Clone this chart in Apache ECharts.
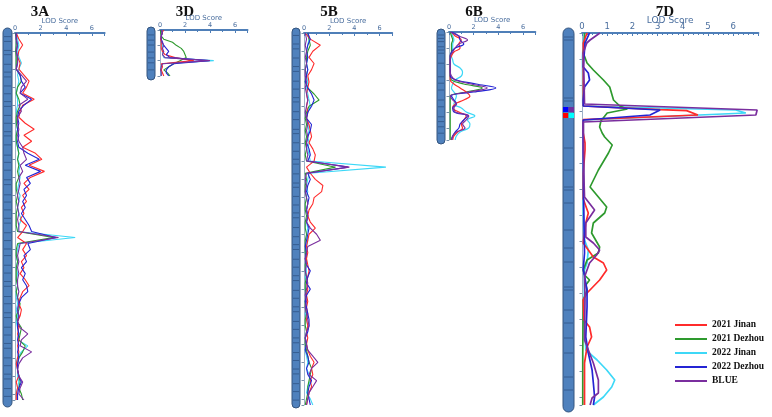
<!DOCTYPE html>
<html>
<head>
<meta charset="utf-8">
<script src="https://cdn.jsdelivr.net/npm/echarts@6/dist/echarts.min.js"></script>
<style>
  html, body { margin: 0; padding: 0; background: #fff; }
  #chart { width: 772px; height: 417px; }
</style>
</head>
<body>
<div id="chart"></div>
<script>
// environments / traits shown in the legend
const seriesNames = ['2021 Jinan', '2021 Dezhou', '2022 Jinan', '2022 Dezhou', 'BLUE'];

// LOD profiles, one value per marker interval (3A, 3D, 5B, 6B)
const jinan21_3A = [0.1,0.3,0.6,0.3,0.2,0.4,0.3,0.7,1.1,0.9,0.6,1.5,0.6,0.4,0.3,0.8,1.5,0.7,1.3,0.6,1.6,2.1,1.1,2.3,1.2,0.7,1.1,0.6,0.9,0.5,0.7,0.4,0.9,0.6,0.2,0.9,0.6,0.9,0.5,0.7,0.4,0.8,1.1,0.6,0.4,0.3,0.5,0.4,0.2,0.3,0.2,0.3,0.2,0.3,0.2,0.1,0.2,0.3,0.1,0.2,0.1,0.1];
const dezhou21_3A = [0.05,0.1,0.1,0.05,0.1,0.1,0.1,0.4,0.5,0.2,0.1,0.3,0.4,0.2,0.1,0.1,0.2,0.1,0.1,0.2,0.3,0.2,0.3,0.2,0.3,0.1,0.1,0.2,0.1,0.2,0.1,0.1,0.1,0.2,3.0,0.2,0.1,0.1,0.2,0.1,0.1,0.1,0.2,0.1,0.2,0.4,0.3,0.1,0.2,0.5,0.4,0.3,0.8,0.6,0.3,0.2,0.2,0.3,0.4,0.3,0.5,0.6];
const jinan22_3A = [0.1,0.2,0.3,0.2,0.3,0.5,0.3,0.2,0.3,0.2,0.1,0.2,0.2,0.1,0.2,0.1,0.2,0.1,0.1,0.2,0.3,0.2,0.4,0.3,0.4,0.3,0.2,0.4,0.3,0.2,0.3,0.5,0.3,0.2,4.7,0.3,0.2,0.1,0.2,0.1,0.2,0.1,0.2,0.1,0.1,0.2,0.1,0.2,0.1,0.2,0.3,0.2,1.0,0.5,0.2,0.1,0.2,0.2,0.3,0.2,0.1,0.2];
const dezhou22_3A = [0.1,0.1,0.2,0.1,0.2,0.2,0.1,0.4,0.5,0.8,0.4,1.3,0.7,0.3,0.2,0.3,0.2,0.3,0.2,0.3,1.0,1.9,0.8,2.0,0.9,1.2,0.7,0.9,0.6,0.8,0.5,0.8,1.1,1.3,3.2,1.0,1.2,0.7,0.9,0.5,0.8,0.6,0.9,1.0,0.5,0.3,0.2,0.3,0.2,0.2,0.3,0.2,0.3,0.2,0.3,0.2,0.2,0.3,0.5,0.3,0.2,0.2];
const blue_3A = [0.1,0.1,0.2,0.1,0.2,0.2,0.1,0.5,0.9,0.5,0.4,1.0,0.3,0.5,0.2,0.2,0.3,0.2,0.3,0.6,0.7,0.9,0.4,0.6,0.3,0.4,0.3,0.2,0.3,0.2,0.3,0.2,0.3,0.3,3.4,0.4,0.3,0.2,0.3,0.2,0.3,0.2,0.2,0.3,0.2,0.3,0.2,0.3,0.2,0.4,1.0,0.5,0.4,1.3,0.6,0.3,0.2,0.3,0.6,0.4,0.3,0.7];

const jinan21_3D = [0.3,0.15,0.1,0.05,0.1,0.1,0.1,0.2,0.4,1.2,2.7,0.1,0.2,0.1,0.2,0.3];
const dezhou21_3D = [0.05,0.05,0.1,0.3,1.0,1.3,1.7,1.9,2.0,2.1,1.6,1.1,0.7,0.3,0.6,0.8];
const jinan22_3D = [0.1,0.1,0.1,0.1,0.1,0.2,0.2,0.2,0.2,0.3,4.3,0.2,0.1,0.1,0.1,0.1];
const dezhou22_3D = [0.1,0.2,0.1,0.1,0.2,0.3,0.5,0.7,0.5,0.8,3.9,1.1,0.7,0.5,0.5,0.7];
const blue_3D = [0.1,0.2,0.1,0.1,0.15,0.3,0.2,0.3,0.2,0.4,4.0,0.2,0.1,0.05,0.1,0.1];

const jinan21_5B = [0.1,0.5,1.3,0.7,0.4,0.8,0.6,0.3,0.4,0.3,0.2,0.3,0.2,0.3,0.2,0.4,0.5,0.6,0.4,0.7,0.9,0.8,0.2,0.5,0.9,1.5,1.4,0.8,0.7,0.4,0.3,0.5,0.9,0.4,0.3,0.2,0.3,0.2,0.3,0.4,0.3,0.2,0.3,0.2,0.3,0.2,0.3,0.2,0.3,0.2,0.3,0.2,0.3,0.5,0.8,0.6,0.7,0.5,0.6,0.4,0.3,0.2];
const dezhou21_5B = [0.3,0.4,0.5,0.3,0.2,0.2,0.1,0.2,0.1,0.3,0.8,1.2,0.4,0.2,0.1,0.2,0.1,0.2,0.1,0.2,0.1,0.2,2.5,0.1,0.2,0.1,0.1,0.2,0.1,0.1,0.2,0.1,0.1,0.2,0.1,0.1,0.1,0.2,0.1,0.1,0.2,0.1,0.1,0.2,0.1,0.1,0.2,0.1,0.1,0.2,0.1,0.1,0.2,0.3,0.4,0.6,0.5,0.4,0.3,0.3,0.2,0.1];
const jinan22_5B = [0.2,0.4,0.3,0.2,0.3,0.2,0.3,0.2,0.3,0.2,0.3,0.4,0.5,0.3,0.2,0.3,0.4,0.3,0.4,0.3,0.4,0.5,6.5,0.4,0.3,0.2,0.3,0.2,0.3,0.2,0.3,0.2,0.3,0.2,0.3,0.2,0.1,0.2,0.1,0.2,0.1,0.2,0.1,0.2,0.1,0.2,0.1,0.2,0.3,0.2,0.1,0.2,0.1,0.2,0.3,0.2,0.4,0.5,0.3,0.2,0.5,0.7];
const dezhou22_5B = [0.3,0.5,0.3,0.2,0.3,0.2,0.3,0.2,0.1,0.3,0.6,0.8,0.6,0.3,0.2,0.6,0.5,0.3,0.2,0.4,0.5,0.3,3.5,0.3,0.5,0.3,0.2,0.4,0.3,0.2,0.3,0.2,0.4,0.3,0.2,0.1,0.2,0.1,0.2,0.5,0.3,0.2,0.5,0.2,0.1,0.2,0.3,0.4,0.4,0.3,0.1,0.2,0.1,0.3,0.4,0.2,0.3,0.6,0.4,0.3,0.4,0.5];
const blue_5B = [0.1,0.2,0.1,0.2,0.1,0.2,0.1,0.1,0.2,0.1,0.2,0.3,0.2,0.1,0.2,0.3,0.2,0.3,0.2,0.2,0.3,0.2,3.6,0.2,0.1,0.2,0.1,0.2,0.3,0.2,0.3,0.2,0.5,1.0,1.3,0.3,0.2,0.1,0.2,0.1,0.2,0.3,0.2,0.1,0.2,0.1,0.2,0.3,0.4,0.2,0.1,0.2,0.3,0.7,1.1,0.6,0.4,1.0,0.7,0.4,0.3,0.2];

const jinan21_6B = [0.2,0.5,1.0,0.8,0.9,0.4,0.2,0.1,0.1,0.1,0.1,0.1,0.1,0.4,0.9,1.4,1.7,1.2,0.5,0.3,0.8,1.4,1.2,1.0,1.1,0.7,0.4,0.3];
const dezhou21_6B = [0.1,0.2,0.3,0.2,0.2,0.2,0.1,0.1,0.1,0.1,0.1,0.1,0.2,1.2,2.7,1.4,0.1,0.1,0.1,0.1,0.1,0.1,0.1,0.1,0.1,0.1,0.1,0.1];
const jinan22_6B = [0.2,0.3,0.4,0.3,0.3,0.2,0.2,0.3,0.4,0.9,1.1,1.0,0.5,0.3,0.2,0.4,0.6,0.5,0.4,1.0,1.4,2.1,1.5,1.7,1.6,0.9,0.6,0.5];
const dezhou22_6B = [0.2,0.8,0.9,1.2,0.5,0.2,0.1,0.1,0.1,0.1,0.1,0.1,0.6,2.2,3.8,2.0,0.2,0.4,0.6,0.3,0.4,1.5,1.2,0.9,0.8,0.5,0.3,0.2];
const blue_6B = [0.1,0.8,1.5,0.8,0.5,0.3,0.1,0.1,0.1,0.1,0.1,0.2,0.5,1.8,3.1,1.6,0.1,0.3,0.6,0.4,0.5,1.6,1.4,1.1,1.3,0.6,0.3,0.2];

// 7D profiles as [position cM, LOD] pairs
const jinan21_7D = [[0,0.2],[5,0.05],[20,0.05],[36.5,0.05],[38.3,3.1],[38.8,4.15],[41,4.6],[43.3,0.05],[50,0.05],[55,0.12],[58.5,0.12],[70,0.05],[83,0.05],[90,0.25],[95,0.15],[105,0.05],[112,0.45],[115,0.85],[118.5,0.98],[123.5,0.7],[130,0.2],[133.5,0.05],[143.5,0.08],[147,0.3],[152,0.38],[157,0.2],[165,0.1],[186,0.1]];
const dezhou21_7D = [[0,0.1],[5,0.1],[10,0.05],[15,0.2],[18.5,0.45],[23.5,0.85],[27,1.1],[33.5,1.25],[36.5,1.5],[38,1.8],[40,1.0],[44,0.75],[47,0.7],[50,0.8],[52,0.9],[56,1.2],[60,1.05],[68.5,0.65],[77,0.32],[82,0.65],[87,0.98],[90,0.9],[95,0.45],[100,0.38],[107,0.7],[110,0.65],[113.5,0.2],[118.5,0.05],[121,0.1],[123.5,0.3],[126,0.15],[128.5,0.2],[133.5,0.05],[160,0.03],[186,0.03]];
const jinan22_7D = [[0,0.1],[5,0.05],[12,0.02],[35,0.03],[36.5,0.05],[38.5,6.1],[40,6.5],[43.5,0.05],[60,0.05],[90,0.05],[103.5,0.1],[108.5,0.25],[115,0.2],[118.5,0.1],[140,0.08],[158.5,0.15],[163.5,0.6],[168.5,0.98],[173.5,1.3],[177,1.18],[182,0.85],[186,0.45]];
const dezhou22_7D = [[0,0.3],[5,0.12],[17,0.05],[20,0.25],[23.5,0.3],[27,0.1],[33.5,0.05],[36.5,0.05],[38.5,3.1],[41,2.7],[43.5,0.05],[50,0.05],[80,0.06],[110,0.1],[118,0.05],[128.5,0.2],[137,0.2],[152,0.15],[160,0.25],[168.5,0.4],[175,0.45],[182,0.5],[186,0.45]];
const blue_7D = [[0,0.71],[3.5,0.32],[5,0.19],[10,0.05],[23.5,0.08],[35.5,0.1],[38.5,6.95],[41,6.9],[44.5,0.05],[58.5,0.05],[73.5,0.08],[82,0.1],[88.5,0.5],[95,0.15],[102,0.15],[105,0.45],[108.5,0.7],[111,0.58],[115,0.3],[122,0.1],[133.5,0.12],[153.5,0.1],[165,0.45],[173.5,0.65],[180,0.65],[182.5,0.4],[186,0.32]];

// chromosome band positions (same units as each panel's y axis)
const bands3A = [0.6,1.4,2.9,3.6,5.2,6.5,7.3,8.8,10.1,11.4,12.2,13.7,15.0,16.4,17.1,18.6,20.3,21.5,22.8,24.4,25.2,26.9,28.1,29.4,30.8,31.6,33.2,34.5,35.9,37.0,38.6,39.9,41.3,42.1,43.8,45.0,46.5,47.3,48.9,50.2,51.6,52.4,54.0,55.3,56.7,57.5,59.1,60.4];
const bands3D = [1.6,3.3,4.9,7.2,9.1,10.7,13];
const bands5B = [0.4,1.8,2.6,4.1,5.5,6.3,7.9,9.2,10.6,11.3,12.9,14.2,15.8,16.5,18.0,19.4,20.7,21.5,23.1,24.6,25.3,26.8,28.2,29.5,30.3,31.9,33.4,34.7,35.5,37.1,38.4,39.8,40.6,42.2,43.5,44.9,45.7,47.3,48.6,50.0,50.8,52.4,53.7,55.1,55.9,57.5,58.8,60.2];
const bands6B = [0.75,1.6,2.4,3.7,4.5,5.3,7.8,11.2,12.8,14.5,17,18.7,21.2,22.4,23.7,25.3];
const bands7D = [2,3.5,32.5,34,57.5,68.5,77,78.5,85,98.5,107.5,114.5,127,128.5,138.5,145,152.5,160,172,178.5];
// QTL box on 7D: [from, to] in cM
const qtlRows7D = [[37, 39.5], [40, 42.5]];

const colors = {
  '2021 Jinan': '#ff2b2b',
  '2021 Dezhou': '#2e9a2e',
  '2022 Jinan': '#3dd8f7',
  '2022 Dezhou': '#2424d4',
  'BLUE': '#7a2e9e'
};
const drawOrder = ['2022 Jinan', '2021 Dezhou', '2021 Jinan', '2022 Dezhou', 'BLUE'];

const panels = [
  { id: '3A', left: 15, top: 33, width: 89.6, height: 367, ymax: 61, yTick: 3, big: false, lw: 1.1, smooth: false,
    chr: { dx: -12, w: 9, padTop: 5, padBot: 7 }, bands: bands3A,
    curves: { '2021 Jinan': jinan21_3A, '2021 Dezhou': dezhou21_3A, '2022 Jinan': jinan22_3A, '2022 Dezhou': dezhou22_3A, 'BLUE': blue_3A } },
  { id: '3D', left: 160, top: 30, width: 87.5, height: 46, ymax: 15, yTick: 5, big: false, lw: 1.1, smooth: false,
    chr: { dx: -13, w: 8, padTop: 3, padBot: 4 }, bands: bands3D,
    curves: { '2021 Jinan': jinan21_3D, '2021 Dezhou': dezhou21_3D, '2022 Jinan': jinan22_3D, '2022 Dezhou': dezhou22_3D, 'BLUE': blue_3D } },
  { id: '5B', left: 304, top: 33, width: 88.2, height: 372, ymax: 61, yTick: 3, big: false, lw: 1.1, smooth: false,
    chr: { dx: -12, w: 8, padTop: 5, padBot: 3 }, bands: bands5B,
    curves: { '2021 Jinan': jinan21_5B, '2021 Dezhou': dezhou21_5B, '2022 Jinan': jinan22_5B, '2022 Dezhou': dezhou22_5B, 'BLUE': blue_5B } },
  { id: '6B', left: 449, top: 32, width: 86.3, height: 108, ymax: 27, yTick: 4, big: false, lw: 1.2, smooth: 0.4,
    chr: { dx: -12, w: 8, padTop: 3, padBot: 4 }, bands: bands6B,
    curves: { '2021 Jinan': jinan21_6B, '2021 Dezhou': dezhou21_6B, '2022 Jinan': jinan22_6B, '2022 Dezhou': dezhou22_6B, 'BLUE': blue_6B } },
  { id: '7D', left: 582, top: 33, width: 176.4, height: 372, ymax: 186, yTick: 13, big: true, lw: 1.7, smooth: false, pairs: true,
    chr: { dx: -19, w: 11, padTop: 5, padBot: 7 }, bands: bands7D, qtl: qtlRows7D,
    curves: { '2021 Jinan': jinan21_7D, '2021 Dezhou': dezhou21_7D, '2022 Jinan': jinan22_7D, '2022 Dezhou': dezhou22_7D, 'BLUE': blue_7D } }
];

const axisBlue = '#4f7fb8';
const labelBlue = '#4a6e9e';

const grid = [], xAxis = [], yAxis = [], series = [], graphic = [];

panels.forEach(function (p, k) {
  grid.push({ left: p.left, top: p.top, width: p.width, height: p.height });

  xAxis.push({
    type: 'value', gridIndex: k, position: 'top', min: 0, max: 7, interval: p.big ? 1 : 2,
    name: 'LOD Score', nameLocation: 'middle', nameGap: 8, nameMoveOverlap: false,
    nameTextStyle: { color: labelBlue, fontSize: p.big ? 9 : 7, fontFamily: 'DejaVu Sans' },
    axisLine: { onZero: false, lineStyle: { color: axisBlue, width: 2 } },
    axisTick: { inside: true, length: 3, lineStyle: { color: axisBlue } },
    minorTick: { show: true, splitNumber: p.big ? 5 : 2, length: 2, lineStyle: { color: axisBlue } },
    axisLabel: { color: labelBlue, fontSize: p.big ? 8.5 : 6.5, margin: 1.5, showMaxLabel: false, fontFamily: 'DejaVu Sans' },
    splitLine: { show: false }
  });

  yAxis.push({
    type: 'value', gridIndex: k, min: 0, max: p.ymax, interval: p.yTick, inverse: true,
    axisLine: { onZero: false, lineStyle: { color: '#9fb2c8', width: 1 } },
    axisTick: { show: true, length: 2.5, lineStyle: { color: '#7890ab' } },
    axisLabel: { show: false },
    splitLine: { show: false }
  });

  // chromosome drawn against the panel's position scale
  series.push({
    type: 'custom', xAxisIndex: k, yAxisIndex: k, silent: true, z: 1,
    data: [[0, 0, p.ymax]],
    renderItem: function (params, api) {
      const a = api.coord([0, api.value(1)]);
      const b = api.coord([0, api.value(2)]);
      const x = a[0] + p.chr.dx, w = p.chr.w;
      const y0 = a[1] - p.chr.padTop, y1 = b[1] + p.chr.padBot;
      const children = [{
        type: 'rect', shape: { x: x, y: y0, width: w, height: y1 - y0, r: w / 2 },
        style: { fill: '#4f81bd', stroke: '#34557f', lineWidth: 1 }
      }];
      p.bands.forEach(function (pos) {
        const c = api.coord([0, pos]);
        children.push({
          type: 'line', shape: { x1: x + 1, y1: c[1], x2: x + w - 1, y2: c[1] },
          style: { stroke: '#2d5283', lineWidth: 1, opacity: 0.75 }
        });
      });
      if (p.qtl) {
        const boxColors = [['#0000ff', '#7030a0'], ['#ff0000', '#00ffff']];
        p.qtl.forEach(function (row, r) {
          const t = api.coord([0, row[0]])[1], u = api.coord([0, row[1]])[1];
          const half = Math.round(w / 2) - 0.5;
          children.push({ type: 'rect', shape: { x: x, y: t, width: half, height: u - t }, style: { fill: boxColors[r][0] } });
          children.push({ type: 'rect', shape: { x: x + half, y: t, width: w - half, height: u - t }, style: { fill: boxColors[r][1] } });
        });
      }
      return { type: 'group', children: children };
    }
  });

  drawOrder.forEach(function (name) {
    const src = p.curves[name];
    const data = p.pairs
      ? src.map(function (d) { return [d[1], d[0]]; })
      : src.map(function (v, i) { return [v, i]; });
    series.push({
      type: 'line', name: name, xAxisIndex: k, yAxisIndex: k, data: data,
      showSymbol: false, symbol: 'none', smooth: p.smooth, z: 3,
      lineStyle: { color: colors[name], width: p.lw },
      itemStyle: { color: colors[name] },
      emphasis: { disabled: true }
    });
  });

  graphic.push({
    type: 'text', x: p.left + (p.id === '7D' ? 83 : 25), y: 12,
    style: { text: p.id, textAlign: 'center', textVerticalAlign: 'middle', font: 'bold 15px "Liberation Serif"', fill: '#111' }
  });
});

const chart = echarts.init(document.getElementById('chart'), null, { renderer: 'canvas' });
chart.setOption({
  animation: false,
  backgroundColor: '#fff',
  grid: grid,
  xAxis: xAxis,
  yAxis: yAxis,
  series: series,
  graphic: graphic,
  legend: {
    orient: 'vertical', left: 675, top: 318, padding: 0, itemWidth: 32, itemHeight: 2, itemGap: 0, icon: 'rect',
    data: seriesNames,
    textStyle: { fontFamily: 'Liberation Serif', fontWeight: 'bold', fontSize: 9.5, lineHeight: 14, color: '#111' }
  }
});
</script>
</body>
</html>
